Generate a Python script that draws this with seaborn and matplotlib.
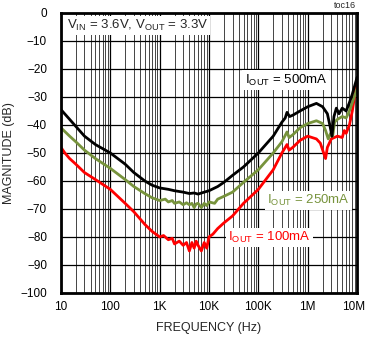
import numpy as np
import pandas as pd
import seaborn as sns
import matplotlib.pyplot as plt
import matplotlib.transforms as mtransforms
from matplotlib.ticker import FixedLocator, LogLocator, NullFormatter

#%% Data

freq_500 = [10, 15, 20, 30, 50, 100, 200, 300, 500, 700, 1e3, 1.5e3, 2e3, 3e3, 4e3, 5e3, 6e3, 8e3,
            1e4, 1.5e4, 2e4, 3e4, 5e4, 1e5, 2e5, 3e5, 3.5e5, 3.8e5, 4.3e5, 5e5, 7e5, 1e6, 1.5e6,
            2e6, 2.5e6, 2.8e6, 3.1e6, 3.4e6, 3.8e6, 4.3e6, 5e6, 6e6, 7e6, 8e6, 1e7]
mag_500 = [-34.5, -38, -40.5, -44, -47, -50, -54, -57, -60, -61.5, -62.5, -63, -63.5, -64, -64.5,
           -64.3, -64.7, -64, -63.5, -62, -60.5, -58, -55, -50, -44, -39, -37.5, -35.5, -37, -36.5,
           -35, -33.5, -32.3, -33.5, -36, -40, -44, -37, -34, -36, -34, -35, -32, -29, -23]

freq_250 = [10, 15, 20, 30, 50, 100, 200, 300, 500, 700, 1e3, 1.3e3, 1.5e3, 1.8e3, 2e3, 2.5e3,
            3e3, 3.5e3, 4e3, 4.5e3, 5e3, 5.5e3, 6e3, 7e3, 8e3, 9e3, 1e4, 1.3e4, 1.5e4, 2e4, 3e4,
            5e4, 1e5, 2e5, 3e5, 3.8e5, 4.2e5, 5e5, 7e5, 1e6, 1.5e6, 2e6, 2.3e6, 2.6e6, 2.9e6, 3.2e6,
            3.5e6, 4e6, 5e6, 6e6, 7e6, 8e6, 1e7]
mag_250 = [-41, -44, -46, -49, -52, -55.5, -59.5, -62, -64.5, -66, -67, -66.5, -67.5, -67, -68,
           -67.5, -68.5, -67.8, -68.5, -68, -69.5, -68.2, -68, -69.5, -68, -68.8, -67.5, -68, -66.5,
           -65.5, -64, -60.5, -56, -50, -46, -42.5, -44.5, -43.5, -41, -39.5, -38.5, -39.5, -42,
           -45, -43, -44, -39, -38, -37, -37.5, -35, -32, -27]

freq_100 = [10, 12, 15, 20, 30, 50, 100, 200, 300, 500, 700, 1e3, 1.2e3, 1.5e3, 1.8e3, 2e3,
            2.5e3, 3e3, 3.5e3, 4e3, 4.5e3, 5e3, 5.5e3, 6e3, 7e3, 8e3, 9e3, 1e4, 1.2e4, 1.5e4, 2e4,
            3e4, 5e4, 1e5, 2e5, 3e5, 3.8e5, 4.2e5, 5e5, 7e5, 1e6, 1.5e6, 1.8e6, 2.1e6, 2.3e6, 2.5e6,
            3e6, 4e6, 5e6, 5.5e6, 6e6, 7e6, 8e6, 1e7]
mag_100 = [-48, -50, -52, -54, -57, -59.5, -63, -68, -71, -75.5, -78, -80, -79.5, -81, -80.5,
           -82.5, -81.5, -83, -82, -85, -82, -84, -81.5, -83, -85, -82, -84, -80, -79, -77, -75,
           -72.5, -68, -63, -56, -50, -47, -49, -48, -45.5, -44, -45, -46.5, -50, -52, -48, -45,
           -44, -44.5, -42, -43, -40, -35, -24]

series = ['500mA', '250mA', '100mA']
colors = {'500mA': 'black', '250mA': '#77933C', '100mA': '#FF0000'}

df = pd.concat([
    pd.DataFrame({'freq': freq_500, 'mag': mag_500, 'iout': '500mA'}),
    pd.DataFrame({'freq': freq_250, 'mag': mag_250, 'iout': '250mA'}),
    pd.DataFrame({'freq': freq_100, 'mag': mag_100, 'iout': '100mA'}),
])

#%% Plot

sns.set_style('white')
plt.rcParams['font.family'] = ['Liberation Sans', 'DejaVu Sans']
plt.rcParams['mathtext.fontset'] = 'custom'
plt.rcParams['mathtext.rm'] = 'Liberation Sans'

fig = plt.figure(figsize=(3.67, 3.41), dpi=100)
ax = fig.add_axes([0.166, 0.141, 0.807, 0.821])

sns.lineplot(data=df, x='freq', y='mag', hue='iout', hue_order=series[::-1], palette=colors,
             linewidth=2, legend=False, ax=ax, estimator=None, sort=False)

ax.set_xscale('log')
ax.set_xlim(10, 1e7)
ax.set_ylim(-100, 0)
ax.set_yticks(np.arange(-100, 1, 10))
ax.xaxis.set_major_locator(FixedLocator([10, 100, 1e3, 1e4, 1e5, 1e6, 1e7]))
ax.set_xticklabels(['10', '100', '1K', '10K', '100K', '1M', '10M'])
ax.xaxis.set_minor_locator(LogLocator(base=10, subs=np.arange(2, 10)))
ax.xaxis.set_minor_formatter(NullFormatter())
ax.tick_params(which='both', length=0, labelsize=8.5, colors='black')
ax.tick_params(axis='y', pad=10)
ax.tick_params(axis='x', pad=6)

# pull the last label in a little so it stays inside the figure
last = ax.get_xticklabels()[-1]
last.set_transform(last.get_transform() + mtransforms.ScaledTranslation(-3 / 100, 0, fig.dpi_scale_trans))

ax.grid(which='major', axis='both', color='black', linewidth=0.9)
ax.grid(which='minor', axis='x', color='#444444', linewidth=0.7)
ax.set_axisbelow(True)
for s in ax.spines.values():
    s.set_linewidth(2)
    s.set_color('black')

ax.set_xlabel('FREQUENCY (Hz)', fontsize=9, labelpad=6)
ax.set_ylabel('MAGNITUDE (dB)', fontsize=9, labelpad=4)

box = dict(facecolor='white', edgecolor='none', pad=1.5)
ax.text(0.02, 0.955, r'V$_{\mathrm{IN}}$ = 3.6V, V$_{\mathrm{OUT}}$ = 3.3V', transform=ax.transAxes,
        fontsize=9.5, va='center', ha='left', bbox=box)
ax.text(0.62, 0.76, r'I$_{\mathrm{OUT}}$ = 500mA', transform=ax.transAxes, fontsize=9.5,
        va='center', ha='left', color='black', bbox=box)
ax.text(0.696, 0.33, r'I$_{\mathrm{OUT}}$ = 250mA', transform=ax.transAxes, fontsize=9.5,
        va='center', ha='left', color='#77933C', bbox=box)
ax.text(0.564, 0.197, r'I$_{\mathrm{OUT}}$ = 100mA', transform=ax.transAxes, fontsize=9.5,
        va='center', ha='left', color='#FF0000', bbox=box)
ax.text(0.995, 1.012, 'toc16', transform=ax.transAxes, fontsize=6.5, va='bottom', ha='right')

fig.savefig('out.png', dpi=100)
